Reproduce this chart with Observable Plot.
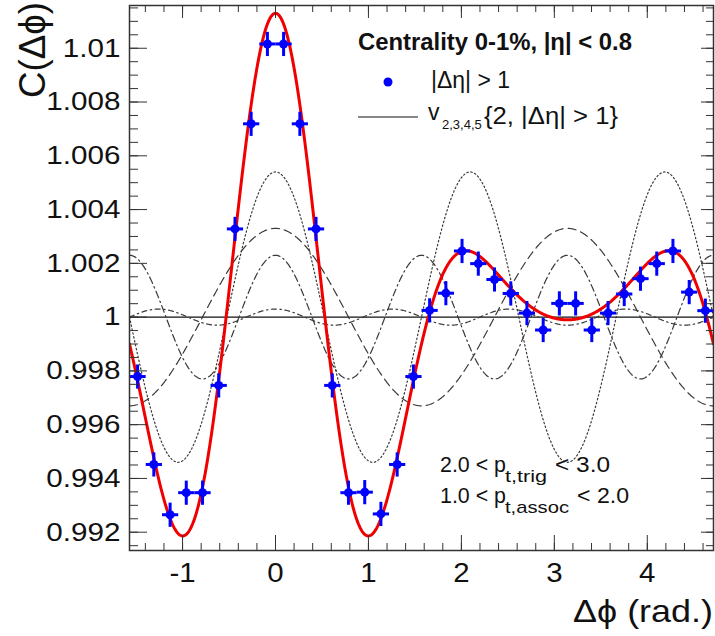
<!DOCTYPE html>
<html><head><meta charset="utf-8">
<script src="https://cdn.jsdelivr.net/npm/d3@7"></script>
<script src="https://cdn.jsdelivr.net/npm/@observablehq/plot@0.6"></script>
<style>
html,body{margin:0;padding:0;background:#fff;}
#chart{width:715px;height:636px;}
</style></head><body><div id="chart"></div>
<script>
// ---- data ----
const dphi = [-1.484,-1.309,-1.134,-0.960,-0.785,-0.611,-0.436,-0.262,-0.087,0.087,0.262,0.436,
              0.611,0.785,0.960,1.134,1.309,1.484,1.658,1.833,2.007,2.182,2.356,2.531,
              2.705,2.880,3.054,3.229,3.403,3.578,3.752,3.927,4.102,4.276,4.451,4.625];
const corr = [0.99779,0.99452,0.99265,0.99347,0.99347,0.99746,1.00328,1.00719,1.01016,1.01016,1.00719,1.00328,
              0.99746,0.99347,0.99349,0.99268,0.99452,0.99779,1.00025,1.00089,1.00246,1.00199,1.00140,1.00088,
              1.00015,0.99952,1.00051,1.00051,0.99952,1.00015,1.00086,1.00143,1.00199,1.00246,1.00093,1.00024];
const corrErr = [0.00045,0.00045,0.00045,0.00045,0.00045,0.00045,0.00045,0.00045,0.00045,0.00045,0.00045,0.00045,
                 0.00045,0.00045,0.00045,0.00045,0.00045,0.00045,0.00045,0.00045,0.00045,0.00045,0.00045,0.00045,
                 0.00045,0.00045,0.00045,0.00045,0.00045,0.00045,0.00045,0.00045,0.00045,0.00045,0.00045,0.00045];
const binHalfWidth = 0.0873;
// Fourier harmonics v_n{2}: C = 1 + a_n cos(n Δφ)
const harmonicOrder = [2, 3, 4, 5];
const harmonicAmp = [0.0033, 0.0054, 0.0023, 0.0003];
const xTicks = [-1, 0, 1, 2, 3, 4];
const yTicks = [0.992, 0.994, 0.996, 0.998, 1, 1.002, 1.004, 1.006, 1.008, 1.01];

// ---- styles ----
const harmonicDash = ["8,5", "1.5,2.5", "7,3.5,1.5,3.5", "5,3.5,1.5,3.5"];
const FONT = "'Liberation Sans', Arial, Helvetica, sans-serif";

const points = dphi.map((x, i) => ({x, y: corr[i], e: corrErr[i]}));
const grid = d3.range(0, 721).map(i => -Math.PI / 2 + i * (2 * Math.PI) / 720);
const harmonic = (k) => (d) => 1 + harmonicAmp[k] * Math.cos(harmonicOrder[k] * d);
const fit = (d) => 1 + d3.sum(harmonicOrder, (n, k) => harmonicAmp[k] * Math.cos(n * d));

const xMinor = d3.range(-1.4, 4.65, 0.2);
const yMinor = d3.range(0.9915, 1.0116, 0.0005);
const FW = 584, FH = 545;

const plot = Plot.plot({
  width: 715, height: 636,
  marginLeft: 129, marginRight: 2, marginTop: 5, marginBottom: 86,
  x: {domain: [-Math.PI / 2, 3 * Math.PI / 2], axis: null},
  y: {domain: [0.99132, 1.01159], axis: null},
  style: {fontFamily: FONT, background: "white", overflow: "visible"},
  marks: [
    Plot.ruleY([1], {stroke: "#111", strokeWidth: 1.3}),
    ...harmonicOrder.map((n, k) => Plot.line(grid, {x: d => d, y: harmonic(k), stroke: "#3a3a3a", strokeWidth: 1.2, strokeDasharray: harmonicDash[k], clip: true})),
    Plot.line(grid, {x: d => d, y: fit, stroke: "#f00000", strokeWidth: 3, clip: true}),
    Plot.link(points, {x1: d => d.x - binHalfWidth, x2: d => d.x + binHalfWidth, y1: "y", y2: "y", stroke: "#0000ff", strokeWidth: 3}),
    Plot.link(points, {x1: "x", x2: "x", y1: d => d.y - d.e, y2: d => d.y + d.e, stroke: "#0000ff", strokeWidth: 3}),
    Plot.dot(points, {x: "x", y: "y", r: 4.5, fill: "#0000ff"}),
    // ticks (inside the frame, ROOT style)
    Plot.tickX(xTicks, {x: d => d, insetTop: FH - 15, stroke: "#333"}),
    Plot.tickX(xMinor, {x: d => d, insetTop: FH - 7, stroke: "#333"}),
    Plot.tickX(xTicks, {x: d => d, insetBottom: FH - 13, stroke: "#333"}),
    Plot.tickX(xMinor, {x: d => d, insetBottom: FH - 7, stroke: "#333"}),
    Plot.tickY(yTicks, {y: d => d, insetRight: FW - 18, stroke: "#333"}),
    Plot.tickY(yMinor, {y: d => d, insetRight: FW - 9, stroke: "#333"}),
    Plot.tickY(yTicks, {y: d => d, insetLeft: FW - 12, stroke: "#333"}),
    Plot.tickY(yMinor, {y: d => d, insetLeft: FW - 7, stroke: "#333"}),
    Plot.frame({stroke: "#333", strokeWidth: 1.5}),
    Plot.text(yTicks, {y: d => d, text: d => String(+d.toFixed(3)), frameAnchor: "left", dx: -9, textAnchor: "end", fontSize: 26, fill: "#111"}),
    Plot.text(xTicks, {x: d => d, text: d => String(d), frameAnchor: "bottom", dy: 12, lineAnchor: "top", fontSize: 28, fill: "#111"})
  ]
});
document.getElementById("chart").appendChild(plot);

const svg = d3.select(plot);
function stretchTo(el, w) {
  el.setAttribute("textLength", w);
  el.setAttribute("lengthAdjust", "spacingAndGlyphs");
}
function stretchBy(el, f) {
  const w = el.getComputedTextLength();
  stretchTo(el, w * f);
}
// widen tick labels slightly (reference glyphs are wide)
const textGroups = svg.selectAll('g[aria-label="text"]').nodes();
if (textGroups[0]) d3.select(textGroups[0]).selectAll("text").each(function () { stretchBy(this, 1.14); });
if (textGroups[1]) d3.select(textGroups[1]).selectAll("text").each(function () { stretchBy(this, 1.05); });

const ann = svg.append("g").attr("font-family", FONT).attr("fill", "#111").attr("text-anchor", "start");
function txt(x, y, s, size, extra = {}) {
  const t = ann.append("text").attr("x", x).attr("y", y).attr("font-size", size).attr("text-anchor", "start").text(s);
  for (const k in extra) t.attr(k, extra[k]);
  return t;
}
// axis titles
const yt = txt(0, 0, "C(Δϕ)", 36, {transform: "translate(45,2) rotate(-90)", "text-anchor": "end"});
stretchTo(yt.node(), 96);
const xt = txt(713, 622, "Δϕ (rad.)", 32, {"text-anchor": "end"});
stretchTo(xt.node(), 140);

// legend
const lg = txt(358, 50, "Centrality 0-1%, |η| < 0.8", 24, {"font-weight": "bold"});
stretchTo(lg.node(), 274);
ann.append("circle").attr("cx", 388).attr("cy", 82).attr("r", 4.5).attr("fill", "#0000ff");
const l1 = txt(431, 88, "|Δη| > 1", 23);
stretchTo(l1.node(), 79);
ann.append("line").attr("x1", 358).attr("x2", 418).attr("y1", 117).attr("y2", 117).attr("stroke", "#111").attr("stroke-width", 1.2);
txt(428, 120, "v", 23);
txt(442, 129, "2,3,4,5", 13);
const l2 = txt(484, 124, "{2, |Δη| > 1}", 23);
stretchTo(l2.node(), 134);

// pT annotations
const p1 = txt(440, 472, "2.0 < p", 22); stretchTo(p1.node(), 66);
const s1 = txt(505, 482, "t,trig", 17); stretchTo(s1.node(), 42);
const q1 = txt(555, 472, "< 3.0", 22); stretchTo(q1.node(), 55);
const p2 = txt(440, 503, "1.0 < p", 22); stretchTo(p2.node(), 66);
const s2 = txt(505, 513, "t,assoc", 17); stretchTo(s2.node(), 64);
const q2 = txt(577, 503, "< 2.0", 22); stretchTo(q2.node(), 52);
</script>
</body></html>
